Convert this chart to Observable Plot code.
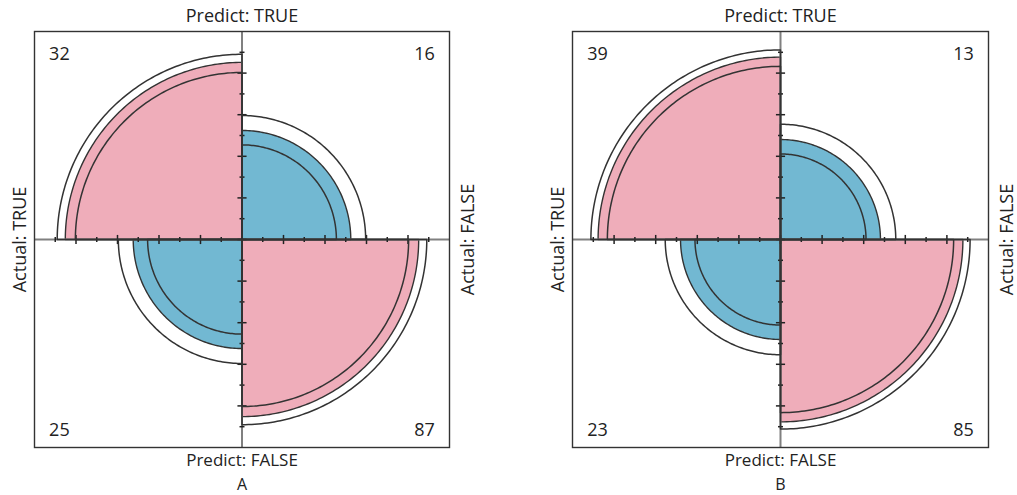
<!DOCTYPE html>
<html><head><meta charset="utf-8">
<script src="https://cdn.jsdelivr.net/npm/d3@7"></script>
<script src="https://cdn.jsdelivr.net/npm/@observablehq/plot@0.6"></script>
<style>
body{margin:0;background:#fff;}
#wrap{display:flex;width:1017px;height:495px;overflow:hidden;}
#wrap svg{display:block;}
</style></head><body><div id="wrap"></div>
<script>
// ---- data ----
const panelNames = ["A", "B"];
const rowLabels = ["Actual: TRUE", "Actual: FALSE"];
const colLabels = ["Predict: TRUE", "Predict: FALSE"];
const countsA = [[32, 16], [25, 87]];
const countsB = [[39, 13], [23, 85]];
const majorTicks = [-0.8, -0.6, -0.4, -0.2, 0, 0.2, 0.4, 0.6, 0.8];
const minorTicks = [-0.9, -0.7, -0.5, -0.3, -0.1, 0.1, 0.3, 0.5, 0.7, 0.9];
const zConf = 1.959964; // 95% normal quantile

// ---- styling / layout ----
const PINK = "#EFADBA", BLUE = "#72B8D2";
const FONT = "'Open Sans', Lato, sans-serif";
const layouts = [
  {width: 508, marginLeft: 34, marginRight: 59},
  {width: 509, marginLeft: 64, marginRight: 29}
];
// quadrant angle ranges (deg) per cell [row][col]
const quadAngles = [[[90, 180], [0, 90]], [[180, 270], [270, 360]]];

function arc(r, a0, a1, id) {
  const pts = [{x: 0, y: 0, id}];
  const n = 90;
  for (let i = 0; i <= n; i++) {
    const t = (a0 + (a1 - a0) * i / n) * Math.PI / 180;
    pts.push({x: r * Math.cos(t), y: r * Math.sin(t), id});
  }
  pts.push({x: 0, y: 0, id});
  return pts;
}
function stdU(or) { const s = Math.sqrt(or); return s / (1 + s); }

function panel(counts, name, lay) {
  const [[a, b], [c, d]] = counts;
  const or = (a * d) / (b * c);
  const se = Math.sqrt(1 / a + 1 / b + 1 / c + 1 / d);
  const u = stdU(or);
  const ciU = [stdU(or * Math.exp(-zConf * se)), stdU(or * Math.exp(zConf * se))];
  const fills = [], rings = [];
  for (let i = 0; i < 2; i++) for (let j = 0; j < 2; j++) {
    const diag = i === j;
    const [a0, a1] = quadAngles[i][j];
    const r = Math.sqrt(diag ? u : 1 - u);
    fills.push(...arc(r, a0, a1, `${i}${j}`).map(p => ({...p, col: diag ? PINK : BLUE})));
    ciU.forEach((cu, k) => {
      rings.push(...arc(Math.sqrt(diag ? cu : 1 - cu), a0, a1, `${i}${j}${k}`));
    });
  }
  const cells = [];
  for (let i = 0; i < 2; i++) for (let j = 0; j < 2; j++)
    cells.push({n: counts[i][j], x: j === 0 ? -0.88 : 0.88, y: i === 0 ? 0.89 : -0.915});

  return Plot.plot({
    width: lay.width, height: 495,
    marginLeft: lay.marginLeft, marginRight: lay.marginRight,
    marginTop: 31, marginBottom: 48,
    x: {domain: [-1, 1], axis: null},
    y: {domain: [-1, 1], axis: null},
    style: {fontFamily: FONT, background: "white", overflow: "visible"},
    marks: [
      Plot.line(fills.filter(p => p.col === PINK), {x: "x", y: "y", z: "id", fill: PINK, stroke: "#333", strokeWidth: 1.4, curve: "linear"}),
      Plot.line(fills.filter(p => p.col === BLUE), {x: "x", y: "y", z: "id", fill: BLUE, stroke: "#333", strokeWidth: 1.4, curve: "linear"}),
      Plot.ruleY([0], {stroke: "#808080", strokeWidth: 2}),
      Plot.ruleX([0], {stroke: "#808080", strokeWidth: 2}),
      Plot.link(majorTicks, {x1: t => t, x2: t => t, y1: -0.022, y2: 0.022, stroke: "#222", strokeWidth: 1.5}),
      Plot.link(minorTicks, {x1: t => t, x2: t => t, y1: -0.012, y2: 0.012, stroke: "#222", strokeWidth: 1.5}),
      Plot.link(majorTicks, {y1: t => t, y2: t => t, x1: -0.022, x2: 0.022, stroke: "#222", strokeWidth: 1.5}),
      Plot.link(minorTicks, {y1: t => t, y2: t => t, x1: -0.012, x2: 0.012, stroke: "#222", strokeWidth: 1.5}),
      Plot.line(rings, {x: "x", y: "y", z: "id", stroke: "#333", strokeWidth: 1.5, fill: "none"}),
      Plot.frame({stroke: "#333", strokeWidth: 1.4}),
      Plot.text(cells, {x: "x", y: "y", text: "n", fontSize: 18, fill: "#222"}),
      Plot.text([colLabels[0]], {x: 0, y: 1.075, text: d => d, fontSize: 18, fill: "#222"}),
      Plot.text([colLabels[1]], {x: 0, y: -1.065, text: d => d, fontSize: 17, fill: "#222"}),
      Plot.text([name], {x: 0, y: -1.18, text: d => d, fontSize: 16, fill: "#222"}),
      Plot.text([rowLabels[0]], {x: -1.07, y: 0, text: d => d, rotate: -90, fontSize: 18, fill: "#222"}),
      Plot.text([rowLabels[1]], {x: 1.09, y: 0, text: d => d, rotate: -90, fontSize: 18, fill: "#222"})
    ]
  });
}

const wrap = document.getElementById("wrap");
wrap.appendChild(panel(countsA, panelNames[0], layouts[0]));
wrap.appendChild(panel(countsB, panelNames[1], layouts[1]));
</script></body></html>
